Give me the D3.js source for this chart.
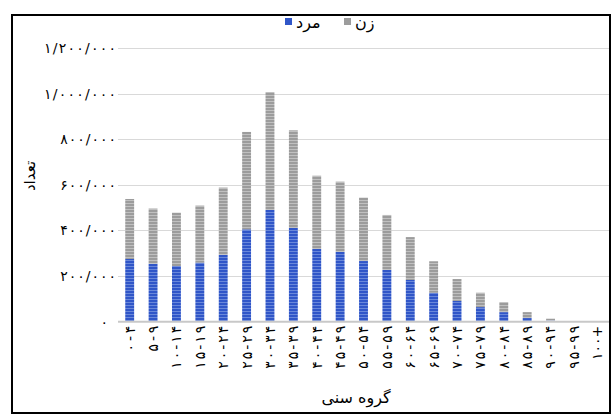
<!DOCTYPE html>
<html><head><meta charset="utf-8">
<script src="https://cdn.jsdelivr.net/npm/d3@7"></script>
<style>
html,body{margin:0;padding:0;background:#fff;}
svg text{font-family:"DejaVu Sans",sans-serif;}
</style></head>
<body>
<svg id="chart" width="614" height="418"></svg>
<script>
const categories = ["۰-۴","۵-۹","۱۰-۱۴","۱۵-۱۹","۲۰-۲۴","۲۵-۲۹","۳۰-۳۴","۳۵-۳۹","۴۰-۴۴","۴۵-۴۹","۵۰-۵۴","۵۵-۵۹","۶۰-۶۴","۶۵-۶۹","۷۰-۷۴","۷۵-۷۹","۸۰-۸۴","۸۵-۸۹","۹۰-۹۴","۹۵-۹۹","۱۰۰+"];
const male   = [275000,254000,244000,259000,293000,405000,490000,411000,319000,306000,266000,227000,183000,127000,91000,64000,42000,16000,5000,1000,0];
const female = [263000,242000,234000,250000,295000,427000,517000,428000,321000,308000,278000,241000,188000,138000,96000,63000,44000,26000,8000,1000,0];
const yTicks = [0,200000,400000,600000,800000,1000000,1200000];
const yTickLabels = ["۰","۲۰۰/۰۰۰","۴۰۰/۰۰۰","۶۰۰/۰۰۰","۸۰۰/۰۰۰","۱/۰۰۰/۰۰۰","۱/۲۰۰/۰۰۰"];
const seriesNames = ["مرد","زن"];
const xTitle = "گروه سنی";
const yTitle = "تعداد";

const svg = d3.select("#chart");
const defs = svg.append("defs");
function stripe(id, base, light){
  const p = defs.append("pattern").attr("id",id).attr("patternUnits","userSpaceOnUse")
    .attr("width",6).attr("height",3);
  p.append("rect").attr("width",6).attr("height",3).attr("fill",base);
  p.append("rect").attr("y",2).attr("width",6).attr("height",1).attr("fill",light);
}
stripe("pBlue","#3056c8","#6a88da");
stripe("pGray","#9c9c9c","#c0c0c0");

// frame
svg.append("rect").attr("x",12).attr("y",15).attr("width",598).attr("height",398)
  .attr("fill","none").attr("stroke","#000").attr("stroke-width",2);

const x = d3.scaleBand().domain(categories).range([118,609]).paddingInner(0.62).paddingOuter(0.31);
const y = d3.scaleLinear().domain([0,1200000]).range([321.7,48]);

// gridlines
svg.append("g").selectAll("line").data(yTicks.slice(1)).join("line")
  .attr("x1",118).attr("x2",609).attr("y1",d=>Math.round(y(d))+0.5).attr("y2",d=>Math.round(y(d))+0.5)
  .attr("stroke","#d9d9d9").attr("stroke-width",1);

// y axis labels
const yAxis = d3.axisLeft(y).tickValues(yTicks).tickSize(0).tickPadding(1)
  .tickFormat((d,i)=>yTickLabels[i]);
const gy = svg.append("g").attr("transform","translate(117,0)").call(yAxis);
gy.select(".domain").remove();
gy.selectAll("text").attr("font-size",14).attr("fill","#000").attr("font-family","DejaVu Sans")
  .attr("lengthAdjust","spacing")
  .attr("textLength",(d,i)=> yTickLabels[i].length>1 ? yTickLabels[i].length*8.1-1 : null);
gy.selectAll(".tick").filter(d=>d===0).select("text").attr("x",-9);

// stacked bars
const stackData = categories.map((c,i)=>({cat:c, male:male[i], female:female[i]}));
const stack = d3.stack().keys(["male","female"])(stackData);
const fills = ["url(#pBlue)","url(#pGray)"];
svg.append("g").selectAll("g").data(stack).join("g")
  .attr("fill",(d,i)=>fills[i])
  .selectAll("rect").data(d=>d).join("rect")
  .attr("x",d=>x(d.data.cat)).attr("width",x.bandwidth())
  .attr("y",d=>y(d[1])).attr("height",d=>Math.max(0,y(d[0])-y(d[1])));

// x axis
const xAxis = d3.axisBottom(x).tickSize(0);
const gx = svg.append("g").attr("transform","translate(0,321.7)").call(xAxis);
gx.select(".domain").attr("stroke","#c8c8c8").attr("stroke-width",2).attr("d","M118,0H609");
gx.selectAll("text").attr("transform","rotate(-90)").attr("text-anchor","end")
  .attr("x",-4).attr("y",0).attr("dy","0.35em").attr("font-size",14).attr("fill","#000")
  .attr("lengthAdjust","spacing").attr("textLength",d=>d.length*8.6);

// axis titles
svg.append("text").attr("x",356).attr("y",403).attr("text-anchor","middle")
  .attr("font-size",16).attr("fill","#000").text(xTitle);
svg.append("text").attr("transform","translate(35,176) rotate(-90)").attr("text-anchor","middle")
  .attr("font-size",15).attr("fill","#000").text(yTitle);

// legend
const legendColors = ["#3056c8","#9c9c9c"];
const lx = [285,344];
const lg = svg.append("g");
seriesNames.forEach((n,i)=>{
  lg.append("rect").attr("x",lx[i]).attr("y",18).attr("width",7).attr("height",7).attr("fill",legendColors[i]);
  lg.append("text").attr("x",lx[i]+11).attr("y",22).attr("dy","0.35em").attr("font-size",16)
    .attr("text-anchor","start").attr("fill","#000").text(n);
});
</script>
</body></html>
